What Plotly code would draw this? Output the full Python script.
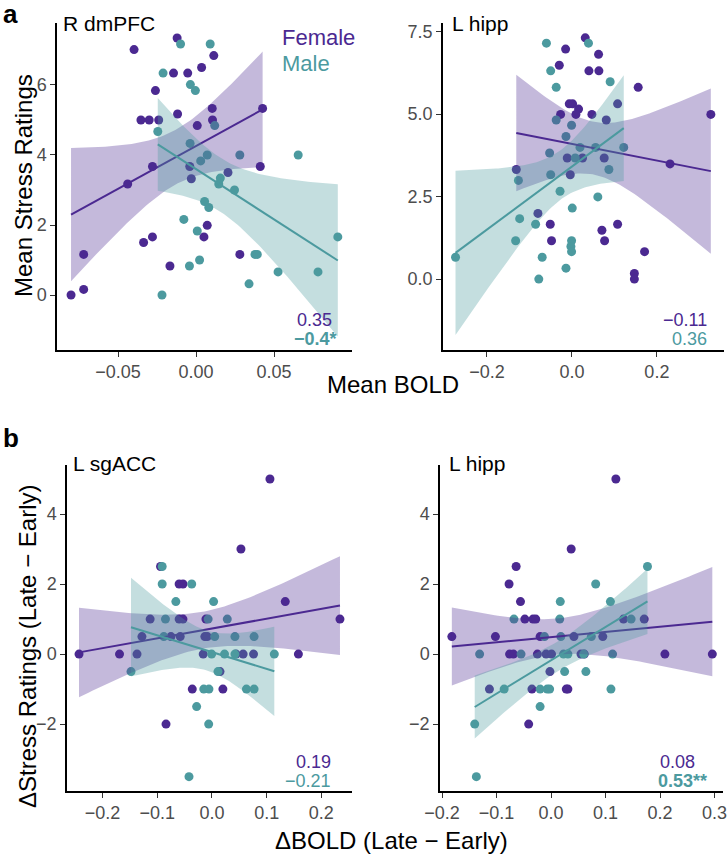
import numpy as np
import plotly.graph_objects as go

PURPLE = '#4B2991'
TEAL = '#4C9A9F'
PURPLE_FILL = 'rgba(75,41,145,0.33)'
TEAL_FILL = 'rgba(76,154,159,0.33)'

# ---- panel a, left: R dmPFC (Mean BOLD vs Mean Stress Ratings)
a1_female_x = [-0.0801, -0.0720, -0.0720, -0.0438, -0.0397, -0.0353, -0.0336, -0.0300, -0.0279, -0.0279,
               -0.0260, -0.0239, -0.0167, -0.0144, -0.0121, -0.0118, -0.0053, -0.0040, -0.0030, 0.0008,
               0.0036, 0.0051, 0.0072, 0.0104, 0.0106, 0.0114, 0.0205, 0.0281, 0.0412, 0.0427]
a1_female_y = [0.00, 0.16, 1.16, 3.17, 7.01, 5.00, 1.50, 5.00, 1.66, 3.67,
               5.84, 5.00, 0.83, 6.34, 7.34, 5.17, 6.34, 3.67, 3.32, 4.84,
               6.50, 1.66, 1.99, 5.33, 5.00, 6.84, 3.50, 1.16, 3.67, 5.33]
a1_male_x = [-0.0218, -0.0211, -0.0245, -0.0099, -0.0036, -0.0004, -0.0038, -0.0078, -0.0042, 0.0008,
             0.0023, 0.0030, 0.0055, 0.0072, 0.0082, 0.0091, 0.0120, 0.0146, 0.0156, 0.0247,
             0.0281, 0.0340, 0.0378, 0.0393, 0.0526, 0.0655, 0.0782, 0.0909]
a1_male_y = [0.00, 6.34, 4.67, 7.17, 6.01, 5.84, 4.33, 2.16, 0.83, 1.83,
             1.00, 3.83, 2.67, 4.00, 2.50, 7.17, 4.84, 3.17, 3.34, 3.00,
             4.00, 0.32, 1.16, 1.16, 0.66, 4.00, 0.66, 1.66]

# ---- panel a, right: L hipp
a2_female_x = [0.0314, -0.0149, -0.0298, 0.0627, 0.0400, 0.0635, 0.1560, 0.1075, -0.0063, 0.0016,
               0.0157, 0.0094, -0.0267, 0.0470, 0.0808, 0.3270, -0.0110, 0.0250, 0.0760, -0.1310,
               -0.0039, 0.2310, -0.0800, -0.0510, -0.0480, 0.0706, 0.0769, 0.1075, 0.1710, 0.1470, 0.1470]
a2_female_y = [7.31, 6.97, 6.48, 6.81, 6.31, 6.31, 5.81, 5.31, 5.31, 5.31,
               5.15, 4.99, 4.99, 4.99, 4.82, 4.99, 3.67, 3.67, 3.67, 3.32,
               3.16, 3.49, 1.99, 1.66, 1.16, 1.48, 1.16, 1.66, 0.83, 0.17, 0.00]
a2_male_x = [-0.0600, 0.0390, -0.0500, -0.0370, 0.0900, -0.0370, -0.0008, -0.0140, 0.0190, 0.0557,
             0.1220, -0.0525, 0.0078, -0.0500, 0.0870, -0.1260, -0.0280, 0.0610, 0.0008, -0.1230,
             -0.0855, -0.1325, -0.0008, -0.0024, -0.0008, -0.0700, -0.0140, -0.0780, -0.2740]
a2_male_y = [7.15, 7.15, 6.31, 5.81, 5.98, 4.82, 4.66, 4.32, 3.99, 3.99,
             3.99, 3.82, 3.67, 3.16, 3.32, 2.99, 2.66, 2.49, 2.15, 1.83,
             1.66, 1.16, 1.16, 0.99, 0.83, 0.66, 0.33, 0.00, 0.66]

# ---- panel b, left: L sgACC (change scores)
b1_female_x = [-0.243, -0.169, -0.137, -0.128, -0.113, -0.094, -0.084, -0.075, -0.058, -0.060,
               -0.053, -0.060, -0.053, -0.036, -0.016, -0.013, -0.011, -0.0086, 0.0147, 0.020,
               0.044, 0.057, 0.053, 0.076, 0.106, 0.134, 0.158, 0.234]
b1_female_y = [0.0, 0.0, 0.0, 0.5, 1.0, 2.5, -2.0, 0.5, 0.5, 1.0,
               1.0, 2.0, 2.0, -1.0, 0.0, 0.5, 1.0, 0.5, -0.5, -1.0,
               0.0, 0.0, 3.0, 0.0, 5.0, 1.5, 0.0, 1.0]
b1_male_x = [-0.148, -0.091, -0.091, -0.085, -0.088, -0.066, -0.037, -0.042, -0.028, -0.006,
             -0.015, -0.0055, -0.007, -0.0006, 0.003, 0.005, 0.011, 0.023, 0.028, 0.042,
             0.042, 0.063, 0.077, 0.077, 0.114]
b1_male_y = [-0.5, 2.5, 2.0, 1.0, 0.5, 1.5, 2.0, -3.5, -1.5, -2.0,
             -1.0, -1.0, 1.0, 0.0, 1.5, 0.5, -0.5, 0.0, 1.0, 0.0,
             0.5, -1.0, -1.0, 0.5, 0.0]

# ---- panel b, right: L hipp (change scores)
b2_female_x = [-0.182, -0.102, -0.113, -0.077, -0.064, -0.056, -0.076, -0.069, -0.048, -0.033,
               -0.028, -0.041, -0.035, -0.020, -0.025, -0.009, -0.002, 0.001, 0.028, 0.031,
               0.037, 0.042, 0.055, 0.061, 0.095, 0.119, 0.133, 0.171, 0.209, 0.296]
b2_female_y = [0.5, 0.5, -1.0, 2.0, 2.5, 1.5, 0.0, 0.0, 1.0, 1.0,
               1.0, -2.0, -1.0, 0.5, 0.0, 0.0, -0.5, 0.0, -1.0, -1.0,
               3.0, 0.5, 0.0, 0.0, 0.5, 5.0, 1.0, 1.0, 0.0, 0.0]
b2_male_x = [-0.140, -0.137, -0.131, -0.086, -0.068, -0.055, -0.020, -0.020, -0.012, -0.007,
             -0.0025, 0.017, 0.016, 0.018, 0.025, 0.023, 0.031, 0.064, 0.060, 0.074,
             0.082, 0.109, 0.113, 0.110, 0.147, 0.177]
b2_male_y = [-2.0, -3.5, 0.0, -1.0, 1.0, 0.0, -1.0, -1.5, 0.5, -1.0,
             -1.0, 1.5, 1.0, 0.5, -0.5, 0.0, 0.0, -0.5, 0.0, 0.5,
             2.0, 1.5, 0.0, -1.0, 1.0, 2.5]

# correlation labels shown in each panel
r_labels = [('0.35', '<b>−0.4*</b>'), ('−0.11', '0.36'), ('0.19', '−0.21'), ('0.08', '<b>0.53**</b>')]


def lm_band(x, y, n=80):
    # linear fit with 95% confidence band, like geom_smooth(method="lm")
    x = np.asarray(x, float)
    y = np.asarray(y, float)
    b, a = np.polyfit(x, y, 1)
    df = len(x) - 2
    resid = y - (a + b * x)
    s = np.sqrt(np.sum(resid ** 2) / df)
    z = 1.959964
    t = z + (z ** 3 + z) / (4 * df) + (5 * z ** 5 + 16 * z ** 3 + 3 * z) / (96 * df ** 2)
    xs = np.linspace(x.min(), x.max(), n)
    fit = a + b * xs
    se = s * np.sqrt(1 / len(x) + (xs - x.mean()) ** 2 / np.sum((x - x.mean()) ** 2))
    return xs, fit, fit - t * se, fit + t * se


W, H = 728, 855


def px(v):
    return v / W


def py(v):
    return 1 - v / H


panels = [
    dict(fx=a1_female_x, fy=a1_female_y, mx=a1_male_x, my=a1_male_y,
         xdom=[px(57), px(352)], ydom=[py(350), py(23)], xr=[-0.0891, 0.100], yr=[-1.57, 7.77],
         xt=[-0.05, 0, 0.05], xtt=['−0.05', '0.00', '0.05'], yt=[0, 2, 4, 6], ytt=['0', '2', '4', '6']),
    dict(fx=a2_female_x, fy=a2_female_y, mx=a2_male_x, my=a2_male_y,
         xdom=[px(443), px(724)], ydom=[py(350), py(23)], xr=[-0.3035, 0.358], yr=[-2.15, 7.76],
         xt=[-0.2, 0, 0.2], xtt=['−0.2', '0.0', '0.2'], yt=[0, 2.5, 5, 7.5], ytt=['0.0', '2.5', '5.0', '7.5']),
    dict(fx=b1_female_x, fy=b1_female_y, mx=b1_male_x, my=b1_male_y,
         xdom=[px(67), px(352)], ydom=[py(791), py(465)], xr=[-0.265, 0.256], yr=[-3.91, 5.4],
         xt=[-0.2, -0.1, 0, 0.1, 0.2], xtt=['−0.2', '−0.1', '0.0', '0.1', '0.2'],
         yt=[-2, 0, 2, 4], ytt=['−2', '0', '2', '4']),
    dict(fx=b2_female_x, fy=b2_female_y, mx=b2_male_x, my=b2_male_y,
         xdom=[px(440), px(723)], ydom=[py(791), py(465)], xr=[-0.2037, 0.3156], yr=[-3.91, 5.4],
         xt=[-0.2, -0.1, 0, 0.1, 0.2, 0.3], xtt=['−0.2', '−0.1', '0.0', '0.1', '0.2', '0.3'],
         yt=[-2, 0, 2, 4], ytt=['−2', '0', '2', '4']),
]

fig = go.Figure()
layout = {}
for i, p in enumerate(panels):
    k = '' if i == 0 else str(i + 1)
    xa, ya = 'x' + k, 'y' + k
    # points first, then the bands on top (as in the original)
    for xs_, ys_, col in [(p['fx'], p['fy'], PURPLE), (p['mx'], p['my'], TEAL)]:
        fig.add_trace(go.Scatter(x=xs_, y=ys_, mode='markers', xaxis=xa, yaxis=ya, showlegend=False,
                                 marker=dict(color=col, size=9, line=dict(width=0))))
    for xs_, ys_, col, fill in [(p['fx'], p['fy'], PURPLE, PURPLE_FILL), (p['mx'], p['my'], TEAL, TEAL_FILL)]:
        gx, fit, lo, hi = lm_band(xs_, ys_)
        fig.add_trace(go.Scatter(x=np.concatenate([gx, gx[::-1]]), y=np.concatenate([hi, lo[::-1]]),
                                 fill='toself', fillcolor=fill, line=dict(width=0), mode='lines',
                                 xaxis=xa, yaxis=ya, showlegend=False, hoverinfo='skip'))
        fig.add_trace(go.Scatter(x=gx, y=fit, mode='lines', line=dict(color=col, width=2),
                                 xaxis=xa, yaxis=ya, showlegend=False))
    axis_common = dict(showgrid=False, zeroline=False, showline=True, linecolor='black', linewidth=1.5,
                       ticks='outside', ticklen=5, tickcolor='#333333', tickwidth=1.2, automargin=False,
                       tickfont=dict(size=18, color='#4D4D4D'))
    layout['xaxis' + k] = dict(axis_common, domain=p['xdom'], range=p['xr'], tickvals=p['xt'],
                               ticktext=p['xtt'], anchor=ya)
    layout['yaxis' + k] = dict(axis_common, domain=p['ydom'], range=p['yr'], tickvals=p['yt'],
                               ticktext=p['ytt'], anchor=xa)

ann = []


def text(x, y, s, size, color='black', xanchor='left', angle=0):
    ann.append(dict(x=px(x), y=py(y), xref='paper', yref='paper', text=s, showarrow=False,
                    font=dict(size=size, color=color), xanchor=xanchor, yanchor='middle', textangle=angle))


# panel letters
text(1, 14, '<b>a</b>', 26)
text(1, 438, '<b>b</b>', 26)
# region titles
text(61, 24, 'R dmPFC', 21)
text(450, 24, 'L hipp', 21)
text(71, 464, 'L sgACC', 21)
text(447, 464, 'L hipp', 21)
# legend
text(280, 38, 'Female', 22, PURPLE)
text(280, 63, 'Male', 22, TEAL)
# correlation labels
r_pos = [(334, 339), (709, 709), (333, 333), (697, 709)]
r_y = [(320, 339), (320, 339), (762, 781), (762, 781)]
for (fl, ml), (xf, xm), (yf, ym) in zip(r_labels, r_pos, r_y):
    text(xf, yf, fl, 18, PURPLE, 'right')
    text(xm, ym, ml, 18, TEAL, 'right')
# axis titles
text(23, 186, 'Mean Stress Ratings', 24, angle=-90, xanchor='center')
text(393, 385, 'Mean BOLD', 24, xanchor='center')
text(27, 647, 'ΔStress Ratings (Late − Early)', 24, angle=-90, xanchor='center')
text(391, 840, 'ΔBOLD (Late − Early)', 24, xanchor='center')

fig.update_layout(**layout)
fig.update_layout(width=W, height=H, margin=dict(l=0, r=0, t=0, b=0),
                  plot_bgcolor='white', paper_bgcolor='white',
                  font=dict(family='Liberation Sans, Arial, sans-serif', color='black'),
                  annotations=ann)
fig.write_html('out.html', config={'displayModeBar': False},
               post_script="document.body.style.margin='0';")
